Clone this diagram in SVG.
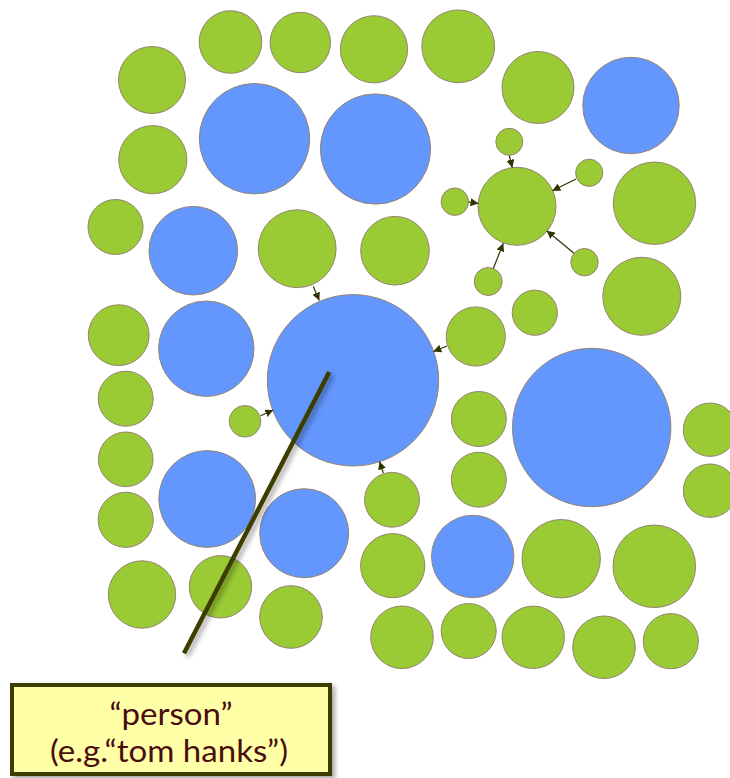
<svg xmlns="http://www.w3.org/2000/svg" width="730" height="778" viewBox="0 0 730 778">
<style>
.g{fill:#9aca34;stroke:#938470;stroke-width:1}
.b{fill:#6397fd;stroke:#938470;stroke-width:1}
.e{stroke:#333300;stroke-width:1.2;fill:none;marker-end:url(#ah)}
.t{font-family:Lato,"Open Sans","Liberation Sans",sans-serif;font-size:31px;fill:#4a0e0e;text-anchor:middle}
</style>
<defs>
<marker id="ah" viewBox="0 0 10 10" refX="10" refY="5" markerWidth="8" markerHeight="8" markerUnits="userSpaceOnUse" orient="auto">
<path d="M0,0 L10,5 L0,10 z" fill="#333300"/>
</marker>
<filter id="sh" x="-20%" y="-20%" width="140%" height="140%">
<feDropShadow dx="3" dy="3" stdDeviation="2.5" flood-color="#000" flood-opacity="0.35"/>
</filter>
</defs>
<rect width="730" height="778" fill="#fff"/>
<g id="nodes">
<g id="n1"><circle class="g" cx="152" cy="80" r="33.5"/></g>
<g id="n2"><circle class="g" cx="230.5" cy="42" r="31.3"/></g>
<g id="n3"><circle class="g" cx="300.3" cy="42.5" r="30.2"/></g>
<g id="n4"><circle class="g" cx="374" cy="49.3" r="33.6"/></g>
<g id="n5"><circle class="g" cx="458.2" cy="46.3" r="36.4"/></g>
<g id="n6"><circle class="g" cx="538" cy="87.5" r="36"/></g>
<g id="n7"><circle class="b" cx="631" cy="105.5" r="48.2"/></g>
<g id="n8"><circle class="b" cx="254.5" cy="138.7" r="55.2"/></g>
<g id="n9"><circle class="b" cx="375.5" cy="149" r="55.1"/></g>
<g id="n10"><circle class="g" cx="152.8" cy="159.7" r="34.1"/></g>
<g id="n11"><circle class="g" cx="115.5" cy="227" r="27.5"/></g>
<g id="n12"><circle class="b" cx="193.3" cy="250.7" r="44.3"/></g>
<g id="n13"><circle class="g" cx="297.2" cy="248.7" r="38.9"/></g>
<g id="n14"><circle class="g" cx="395" cy="250.7" r="34.3"/></g>
<g id="n15"><circle class="g" cx="509.3" cy="141.8" r="13.5"/></g>
<g id="n16"><circle class="g" cx="517" cy="206.3" r="39"/></g>
<g id="n17"><circle class="g" cx="454.8" cy="201.7" r="13.7"/></g>
<g id="n18"><circle class="g" cx="589.2" cy="172.8" r="13.6"/></g>
<g id="n19"><circle class="g" cx="584.5" cy="262.2" r="13.7"/></g>
<g id="n20"><circle class="g" cx="488.2" cy="281.5" r="14"/></g>
<g id="n21"><circle class="g" cx="654.5" cy="203.2" r="41.2"/></g>
<g id="n22"><circle class="g" cx="641.8" cy="296.3" r="39"/></g>
<g id="n23"><circle class="g" cx="534.8" cy="312.7" r="22.6"/></g>
<g id="n24"><circle class="g" cx="475.8" cy="336.5" r="29.6"/></g>
<g id="n25"><circle class="b" cx="353" cy="380.3" r="85.7"/></g>
<g id="n26"><circle class="b" cx="206.3" cy="348.7" r="47.7"/></g>
<g id="n27"><circle class="g" cx="118.7" cy="335.2" r="30.4"/></g>
<g id="n28"><circle class="g" cx="125.7" cy="398.7" r="27.5"/></g>
<g id="n29"><circle class="g" cx="245" cy="421.3" r="15.8"/></g>
<g id="n30"><circle class="g" cx="125.7" cy="459.3" r="27.3"/></g>
<g id="n31"><circle class="g" cx="125.7" cy="519.8" r="27.6"/></g>
<g id="n32"><circle class="b" cx="207.2" cy="499" r="48.4"/></g>
<g id="n33"><circle class="b" cx="304.2" cy="533.2" r="44.5"/></g>
<g id="n34"><circle class="g" cx="392" cy="499.8" r="27.4"/></g>
<g id="n35"><circle class="g" cx="478.8" cy="419" r="27.5"/></g>
<g id="n36"><circle class="g" cx="478.8" cy="479.7" r="27.5"/></g>
<g id="n37"><circle class="b" cx="591.7" cy="427.5" r="79.2"/></g>
<g id="n38"><circle class="g" cx="710" cy="429.7" r="26.7"/></g>
<g id="n39"><circle class="g" cx="710" cy="490.7" r="26.7"/></g>
<g id="n40"><circle class="b" cx="472.7" cy="556.5" r="41.2"/></g>
<g id="n41"><circle class="g" cx="561.2" cy="558.7" r="39.2"/></g>
<g id="n42"><circle class="g" cx="654.3" cy="566.3" r="41.3"/></g>
<g id="n43"><circle class="g" cx="392.7" cy="565.7" r="32.1"/></g>
<g id="n44"><circle class="g" cx="142" cy="594.5" r="33.7"/></g>
<g id="n45"><circle class="g" cx="220.5" cy="586.8" r="31.2"/></g>
<g id="n46"><circle class="g" cx="291" cy="617" r="31.3"/></g>
<g id="n47"><circle class="g" cx="402" cy="637.3" r="31.3"/></g>
<g id="n48"><circle class="g" cx="468.7" cy="631" r="27.5"/></g>
<g id="n49"><circle class="g" cx="533.2" cy="637.3" r="31.2"/></g>
<g id="n50"><circle class="g" cx="604" cy="647.3" r="31.3"/></g>
<g id="n51"><circle class="g" cx="670.8" cy="641.2" r="27.6"/></g>
</g>
<g id="connectors">
<line class="e" x1="509.3" y1="155.5" x2="512.3" y2="167.7"/>
<line class="e" x1="576" y1="179" x2="552.3" y2="190.7"/>
<line class="e" x1="468.5" y1="201.9" x2="478.5" y2="203.5"/>
<line class="e" x1="574" y1="253.3" x2="546.7" y2="230.7"/>
<line class="e" x1="493.3" y1="268.5" x2="503.3" y2="243.3"/>
<line class="e" x1="447" y1="346" x2="433.3" y2="351.5"/>
<line class="e" x1="260.7" y1="415.7" x2="273.3" y2="410"/>
<line class="e" x1="313.3" y1="286.5" x2="319.3" y2="300.5"/>
<line class="e" x1="383.3" y1="473" x2="379.5" y2="461.5"/>
</g>
<g id="pointer">
<line x1="329.3" y1="372" x2="184" y2="653.3" stroke="#3d3d00" stroke-width="4.5" filter="url(#sh)"/>
</g>
<g id="label">
<rect x="12" y="685" width="318" height="89" fill="#ffffa8" stroke="#3d3d00" stroke-width="4" filter="url(#sh)"/>
<text class="t" x="171" y="725" textLength="123" lengthAdjust="spacingAndGlyphs">“person”</text>
<text class="t" x="169" y="762" textLength="238" lengthAdjust="spacingAndGlyphs">(e.g.“tom hanks”)</text>
</g>
</svg>
